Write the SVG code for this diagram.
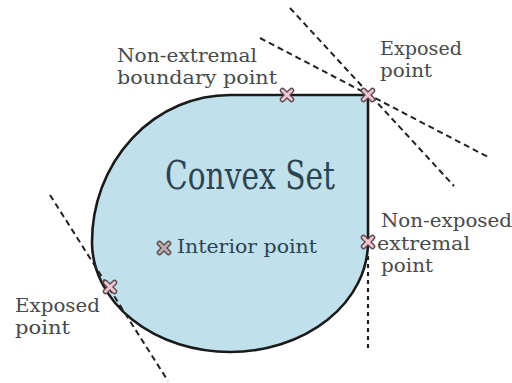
<svg xmlns="http://www.w3.org/2000/svg" width="512" height="383" viewBox="0 0 512 383">
  <defs>
    <style>
      .lbl { font-family: "DejaVu Serif", "Liberation Serif", serif; font-size: 19px; fill: #4a4a4a; }
      .inner { font-family: "DejaVu Serif", "Liberation Serif", serif; fill: #2c4452; }
      .dash { stroke: #222; stroke-width: 2; stroke-dasharray: 6 4; fill: none; }
      .dot { stroke: #222; stroke-width: 2.2; stroke-dasharray: 4 4; fill: none; }
      .mo { stroke: #5a4a50; stroke-width: 5.5; stroke-linecap: round; }
      .mi { stroke: #f0c4d0; stroke-width: 2.8; stroke-linecap: round; }
      .mi2 { stroke: #b8b0b0; stroke-width: 2.8; stroke-linecap: round; }
    </style>
    <g id="mark">
      <line class="mo" x1="-4.5" y1="-4.5" x2="4.5" y2="4.5"/>
      <line class="mo" x1="-4.5" y1="4.5" x2="4.5" y2="-4.5"/>
      <line class="mi" x1="-4.5" y1="-4.5" x2="4.5" y2="4.5"/>
      <line class="mi" x1="-4.5" y1="4.5" x2="4.5" y2="-4.5"/>
    </g>
  </defs>
  <rect width="512" height="383" fill="#ffffff"/>

  <g id="convex-set">
    <path d="M 368 95 L 368 242 A 138 110 0 0 1 92 242 A 138 147 0 0 1 230 95 Z" fill="#c0e1eb" stroke="#1a1a1a" stroke-width="2.6" stroke-linejoin="miter"/>
    <text class="inner" x="165" y="189" font-size="39" textLength="170" lengthAdjust="spacingAndGlyphs">Convex Set</text>
  </g>

  <g id="supporting-lines">
    <line class="dash" x1="290" y1="8" x2="454" y2="186"/>
    <line class="dash" x1="260" y1="38" x2="490" y2="158"/>
    <line class="dash" x1="50" y1="195" x2="168" y2="381"/>
    <line class="dot" x1="368" y1="256" x2="368" y2="352"/>
  </g>

  <g id="non-extremal-boundary-point">
    <use href="#mark" x="287" y="95"/>
    <text class="lbl" x="117" y="62" textLength="140" lengthAdjust="spacingAndGlyphs">Non-extremal</text>
    <text class="lbl" x="117" y="84" textLength="160" lengthAdjust="spacingAndGlyphs">boundary point</text>
  </g>

  <g id="exposed-point-top">
    <use href="#mark" x="368" y="95"/>
    <text class="lbl" x="380" y="55" textLength="82" lengthAdjust="spacingAndGlyphs">Exposed</text>
    <text class="lbl" x="380" y="77" textLength="52" lengthAdjust="spacingAndGlyphs">point</text>
  </g>

  <g id="non-exposed-extremal-point">
    <use href="#mark" x="368" y="242"/>
    <text class="lbl" x="381" y="227" textLength="131" lengthAdjust="spacingAndGlyphs">Non-exposed</text>
    <text class="lbl" x="377" y="250" textLength="93" lengthAdjust="spacingAndGlyphs">extremal</text>
    <text class="lbl" x="381" y="272" textLength="52" lengthAdjust="spacingAndGlyphs">point</text>
  </g>

  <g id="interior-point">
    <g transform="translate(164 248)">
      <line class="mo" x1="-4.5" y1="-4.5" x2="4.5" y2="4.5"/>
      <line class="mo" x1="-4.5" y1="4.5" x2="4.5" y2="-4.5"/>
      <line class="mi2" x1="-4.5" y1="-4.5" x2="4.5" y2="4.5"/>
      <line class="mi2" x1="-4.5" y1="4.5" x2="4.5" y2="-4.5"/>
    </g>
    <text class="inner" x="177" y="253" font-size="18" textLength="140" lengthAdjust="spacingAndGlyphs">Interior point</text>
  </g>

  <g id="exposed-point-left">
    <use href="#mark" x="110" y="287"/>
    <text class="lbl" x="15" y="312" textLength="85" lengthAdjust="spacingAndGlyphs">Exposed</text>
    <text class="lbl" x="15" y="334" textLength="55" lengthAdjust="spacingAndGlyphs">point</text>
  </g>
</svg>
